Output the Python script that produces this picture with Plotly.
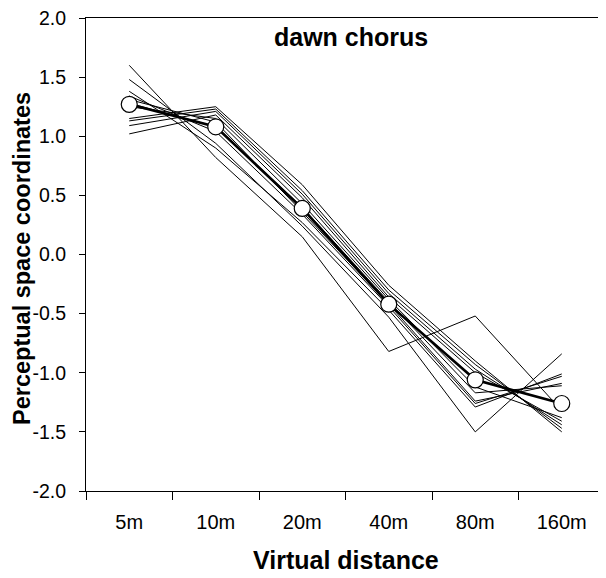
import plotly.graph_objects as go

categories = ["5m", "10m", "20m", "40m", "80m", "160m"]

mean_values = [1.27, 1.08, 0.39, -0.42, -1.06, -1.26]

subject_01 = [1.60, 0.82, 0.15, -0.82, -0.52, -1.32]
subject_02 = [1.48, 0.94, 0.24, -0.53, -1.50, -0.84]
subject_03 = [1.38, 0.90, 0.27, -0.47, -1.29, -1.01]
subject_04 = [1.34, 1.04, 0.34, -0.44, -1.26, -1.03]
subject_05 = [1.31, 1.12, 0.36, -0.42, -1.24, -1.09]
subject_06 = [1.28, 1.08, 0.40, -0.40, -1.17, -1.11]
subject_07 = [1.25, 1.15, 0.43, -0.38, -1.12, -1.38]
subject_08 = [1.15, 1.25, 0.59, -0.26, -0.90, -1.50]
subject_09 = [1.13, 1.23, 0.54, -0.30, -0.93, -1.47]
subject_10 = [1.09, 1.21, 0.51, -0.33, -0.97, -1.44]
subject_11 = [1.02, 1.18, 0.48, -0.36, -1.00, -1.41]

subjects = [subject_01, subject_02, subject_03, subject_04, subject_05, subject_06,
            subject_07, subject_08, subject_09, subject_10, subject_11]

y_tick_values = [-2.0, -1.5, -1.0, -0.5, 0.0, 0.5, 1.0, 1.5, 2.0]
y_tick_labels = ["-2.0", "-1.5", "-1.0", "-0.5", "0.0", "0.5", "1.0", "1.5", "2.0"]

FONT = "Liberation Sans, Arial, Helvetica, sans-serif"

# The page body has an 8px default margin; the figure is sized so that it
# fills the 606x578 window exactly.
PAGE_OFF = 8
X0, X1 = 86, 605     # plot area left/right in window pixels
Y0, Y1 = 18, 491     # plot area top/bottom in window pixels
PW, PH = X1 - X0, Y1 - Y0


def px_x(x):
    return (x - X0) / PW


def px_y(y):
    return (Y1 - y) / PH


fig = go.Figure()

for s in subjects:
    fig.add_trace(go.Scatter(
        x=categories, y=s, mode="lines",
        line=dict(color="black", width=1),
        showlegend=False, hoverinfo="skip",
    ))

fig.add_trace(go.Scatter(
    x=categories, y=mean_values, mode="lines+markers",
    line=dict(color="black", width=2.6),
    marker=dict(size=16, color="white", line=dict(color="black", width=1.2)),
    showlegend=False,
))

W, H = 606 - PAGE_OFF, 578 - PAGE_OFF
fig.update_layout(
    width=W, height=H,
    margin=dict(l=X0 - PAGE_OFF, r=W - (X1 - PAGE_OFF), t=Y0 - PAGE_OFF,
                b=H - (Y1 - PAGE_OFF), autoexpand=False),
    paper_bgcolor="white", plot_bgcolor="white",
    font=dict(family=FONT, color="black", size=19),
    xaxis=dict(
        type="category",
        categoryorder="array", categoryarray=categories,
        range=[-0.5, 5.5],
        tickson="boundaries",
        ticks="outside", ticklen=8, tickwidth=1, tickcolor="black",
        showline=True, linecolor="black", linewidth=1.2, mirror=True,
        showgrid=False, zeroline=False,
        tickfont=dict(size=20, family=FONT),
        ticklabelstandoff=13,
        ticklabeloverflow="allow",
        automargin=False,
    ),
    yaxis=dict(
        range=[-2.0, 2.0],
        tickvals=y_tick_values, ticktext=y_tick_labels,
        ticks="outside", ticklen=6, tickwidth=1, tickcolor="black",
        showline=True, linecolor="black", linewidth=1.2, mirror=True,
        showgrid=False, zeroline=False,
        tickfont=dict(size=19.5, family=FONT),
        ticklabelstandoff=9,
        ticklabeloverflow="allow",
        automargin=False,
    ),
    annotations=[
        dict(text="<b>dawn chorus</b>", xref="paper", yref="paper",
             x=px_x(351), y=px_y(37), xanchor="center", yanchor="middle",
             showarrow=False, font=dict(size=25, family=FONT, color="black")),
        dict(text="<b>Virtual distance</b>", xref="paper", yref="paper",
             x=px_x(345.5), y=px_y(560), xanchor="center", yanchor="middle",
             showarrow=False, font=dict(size=25, family=FONT, color="black")),
        dict(text="<b>Perceptual space coordinates</b>", xref="paper", yref="paper",
             x=px_x(22), y=px_y(259), xanchor="center", yanchor="middle",
             textangle=-90,
             showarrow=False, font=dict(size=23.5, family=FONT, color="black")),
    ],
)

fig.write_html("out.html")
